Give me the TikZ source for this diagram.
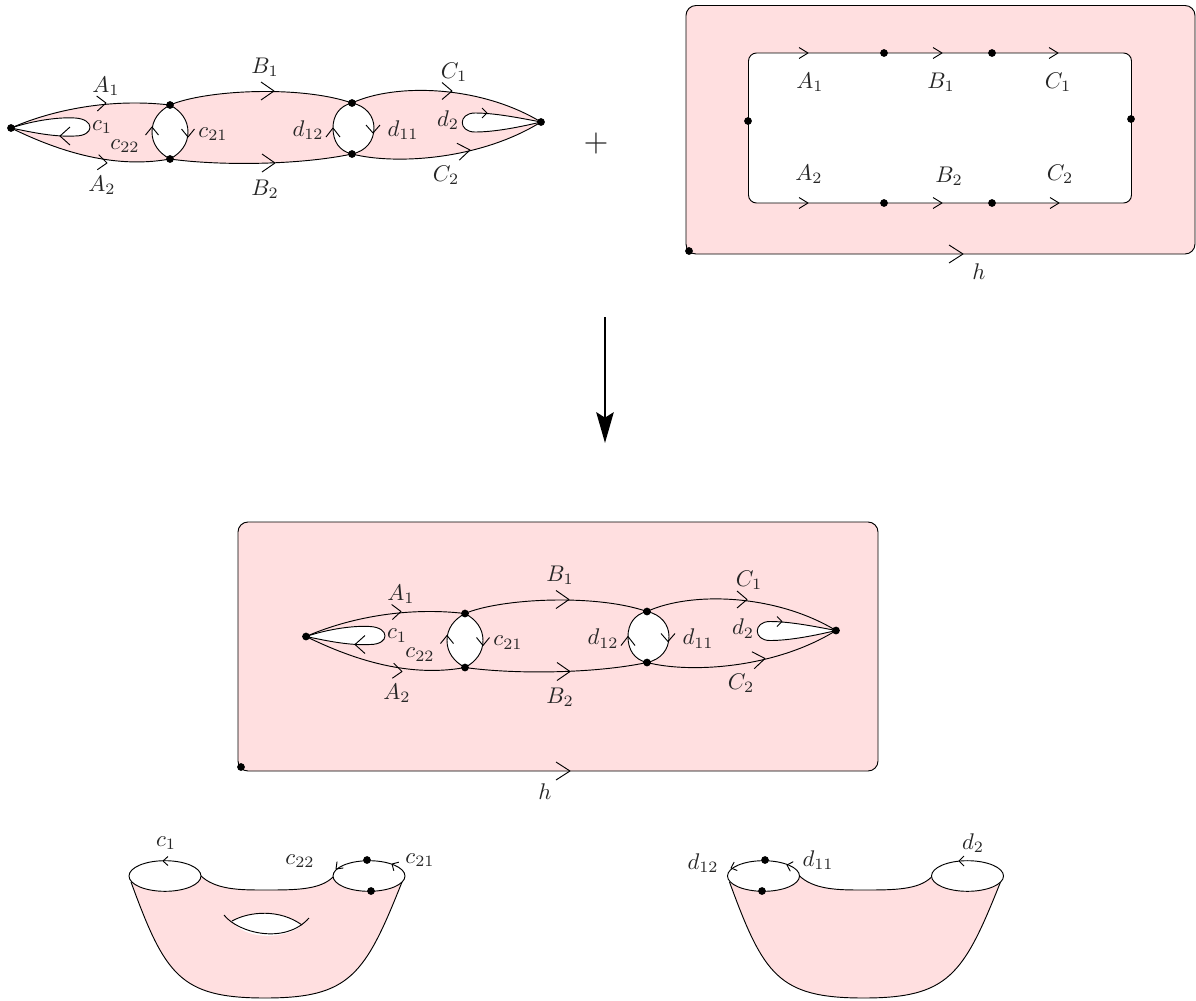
\documentclass[tikz,border=0pt]{standalone}
\usetikzlibrary{arrows.meta}
\definecolor{surf}{RGB}{255,223,224}
\tikzset{
  lab/.style={inner sep=0pt,scale=1.7,text=black!85},
  dot/.style={circle,fill=black,inner sep=0pt,minimum size=5.8pt},
  edge/.style={line width=0.7pt,line join=round},
  plate/.style={fill=surf,draw=black,line width=0.7pt,rounded corners=7.5pt},
  hole/.style={fill=white,draw=black,line width=0.7pt},
  skin/.style={fill=surf,draw=none}
}
% tip x, tip y, page angle, length, width
\newcommand{\barb}[5]{\draw[edge,shift={(#1,#2)},rotate=#3] (-#4,-#5/2) -- (0,0) -- (-#4,#5/2);}
\newcommand{\graphpic}[3]{%
\begin{scope}[shift={(#2,#3)}]
  \coordinate (#1L) at (11,128);
  \coordinate (#1T) at (170,105);
  \coordinate (#1B) at (170,159);
  \coordinate (#1U) at (352,103);
  \coordinate (#1D) at (352,154);
  \coordinate (#1R) at (541,122);
  \fill[surf] (#1L) .. controls (52,110) and (110,98) .. (#1T) .. controls (205,90) and (300,85) .. (#1U)
     .. controls (395,83) and (480,85) .. (#1R) .. controls (480,160) and (395,165) .. (#1D)
     .. controls (300,165) and (220,166) .. (#1B) .. controls (110,170) and (52,148) .. (#1L) -- cycle;
  \draw[hole] (#1T) .. controls (181,111) and (188,120) .. (188,132) .. controls (188,144) and (181,153) .. (#1B)
     .. controls (159,153) and (152,144) .. (152,132) .. controls (152,120) and (159,111) .. (#1T);
  \draw[hole] (#1U) .. controls (366,106) and (374,116) .. (374,128) .. controls (374,141) and (366,151) .. (#1D)
     .. controls (339,151) and (333,141) .. (333,128) .. controls (333,116) and (339,106) .. (#1U);
  \draw[hole] (#1L) .. controls (35,120) and (60,117) .. (75,118) .. controls (95,119) and (95,136) .. (75,136)
     .. controls (55,137) and (35,133) .. (#1L);
  \draw[hole] (#1R) .. controls (520,118) and (495,113) .. (475,113) .. controls (458,113) and (458,132) .. (475,132)
     .. controls (495,132) and (520,127) .. (#1R);
  \draw[edge] (#1L) .. controls (52,110) and (110,98) .. (#1T);
  \draw[edge] (#1T) .. controls (205,90) and (300,85) .. (#1U);
  \draw[edge] (#1U) .. controls (395,83) and (480,85) .. (#1R);
  \draw[edge] (#1L) .. controls (52,148) and (110,170) .. (#1B);
  \draw[edge] (#1B) .. controls (220,166) and (300,165) .. (#1D);
  \draw[edge] (#1D) .. controls (395,165) and (480,160) .. (#1R);
  \node[dot] (#1dL) at (#1L) {};
  \node[dot] (#1dT) at (#1T) {};
  \node[dot] (#1dB) at (#1B) {};
  \node[dot] (#1dU) at (#1U) {};
  \node[dot] (#1dD) at (#1D) {};
  \node[dot] (#1dR) at (#1R) {};
  \barb{106}{103}{3}{9}{15}
  \barb{107}{163}{-5}{9}{15}
  \barb{274}{91}{0}{13}{18}
  \barb{275}{163}{0}{13}{18}
  \barb{452}{91}{0}{10}{17}
  \barb{470}{150}{8}{12}{17}
  \barb{60}{136}{180}{10}{18}
  \barb{487}{113}{0}{5}{10}
  \barb{152}{127}{90}{8}{13}
  \barb{188}{137}{-90}{8}{13}
  \barb{333}{128}{90}{9}{14}
  \barb{373}{133}{-90}{8}{14}
  \node[lab] (#1a1) at (106,86) {$A_1$};
  \node[lab] (#1a2) at (102,185) {$A_2$};
  \node[lab] (#1b1) at (265,67) {$B_1$};
  \node[lab] (#1b2) at (265,189) {$B_2$};
  \node[lab] (#1c1) at (454,72) {$C_1$};
  \node[lab] (#1c2) at (446,175) {$C_2$};
  \node[lab] (#1s1) at (102,127) {$c_1$};
  \node[lab] (#1s2) at (125,146) {$c_{22}$};
  \node[lab] (#1s3) at (213,134) {$c_{21}$};
  \node[lab] (#1d1) at (308,130) {$d_{12}$};
  \node[lab] (#1d2) at (403,130) {$d_{11}$};
  \node[lab] (#1d3) at (448,120) {$d_2$};
\end{scope}}
\newcommand{\bodypic}[1]{%
  \begin{scope}[xshift=#1*0.75pt]
  \fill[surf] (131,882) .. controls (165,975) and (180,998) .. (265,998) .. controls (350,998) and (365,975) .. (402,882)
    -- (369,876) -- (333,877) .. controls (320,890) and (295,890) .. (265,890) .. controls (240,890) and (215,890) .. (200,875) -- (165,876) -- cycle;
  \draw[edge] (131,882) .. controls (165,975) and (180,998) .. (265,998) .. controls (350,998) and (365,975) .. (402,882);
  \draw[edge] (200,875) .. controls (215,890) and (240,890) .. (265,890) .. controls (295,890) and (320,890) .. (333,877);
  \draw[hole] (165,876) ellipse [x radius=36,y radius=15.3];
  \draw[hole] (369,876) ellipse [x radius=36,y radius=15.3];
  \end{scope}}
\begin{document}
\begin{tikzpicture}[x=0.75pt,y=-0.75pt]
\useasboundingbox (0,0) rectangle (1196,1000);
% top right plate
\draw[plate] (686,5.5) rectangle (1195,254);
\draw[hole,rounded corners=6pt] (748.5,53) rectangle (1131.5,203);
\node[dot] (p1) at (884,53) {};
\node[dot] (p2) at (992,53) {};
\node[dot] (p3) at (748,121) {};
\node[dot] (p4) at (1131,119) {};
\node[dot] (p5) at (884,203) {};
\node[dot] (p6) at (992,203) {};
\node[dot] (p7) at (689,251) {};
\barb{808}{53}{0}{9}{11}
\barb{942}{53}{0}{9}{11}
\barb{1058}{53}{0}{9}{11}
\barb{808}{203}{0}{9}{11}
\barb{942}{203}{0}{9}{11}
\barb{1059}{203}{0}{9}{11}
\barb{963}{254}{0}{14}{18}
\node[lab] (pa1) at (810,82) {$A_1$};
\node[lab] (pb1) at (941,82) {$B_1$};
\node[lab] (pc1) at (1058,82) {$C_1$};
\node[lab] (pa2) at (809,174) {$A_2$};
\node[lab] (pb2) at (949,176) {$B_2$};
\node[lab] (pc2) at (1060,174) {$C_2$};
\node[lab] (ph) at (979,272) {$h$};
\graphpic{g}{0}{0}
\node[inner sep=0pt,scale=2.4,text=black!85] (plus) at (596,143) {$+$};
% down arrow
\coordinate (ar1) at (605,317);
\coordinate (ar2) at (605,443);
\draw[line width=2.2pt,-{Stealth[length=23pt,width=13pt,inset=4pt]}] (ar1) -- (ar2);
% middle plate
\draw[plate] (238,522) rectangle (878,771);
\graphpic{m}{295}{508.5}
\node[dot] (q7) at (241,767) {};
\barb{570}{771}{0}{14}{18}
\node[lab] (qh) at (545,792) {$h$};
% left surface
\bodypic{0}
\fill[white] (232,921) .. controls (245,913) and (280,908) .. (302,925) .. controls (285,940) and (245,940) .. (232,921);
\draw[edge] (224,915) .. controls (238,933) and (285,945) .. (309,918);
\draw[edge] (232,921) .. controls (250,911) and (280,909) .. (302,925);
\node[dot] (s1) at (367,860) {};
\node[dot] (s2) at (371,891) {};
\barb{163}{861}{180}{5}{9}
\barb{336}{869}{225}{6}{9}
\barb{392}{864}{150}{5}{10}
\node[lab] (sa) at (166,843) {$c_1$};
\node[lab] (sb) at (300,861) {$c_{22}$};
\node[lab] (sc) at (420,860) {$c_{21}$};
% right surface
\bodypic{598.5}
\node[dot] (t1) at (765,860) {};
\node[dot] (t2) at (762,891) {};
\barb{731}{868}{200}{5}{9}
\barb{787}{865}{163}{5}{10}
\barb{959}{861}{180}{5}{10}
\node[lab] (ta) at (703,863) {$d_{12}$};
\node[lab] (tb) at (818,860) {$d_{11}$};
\node[lab] (tc) at (973,843) {$d_2$};
\end{tikzpicture}
\end{document}
